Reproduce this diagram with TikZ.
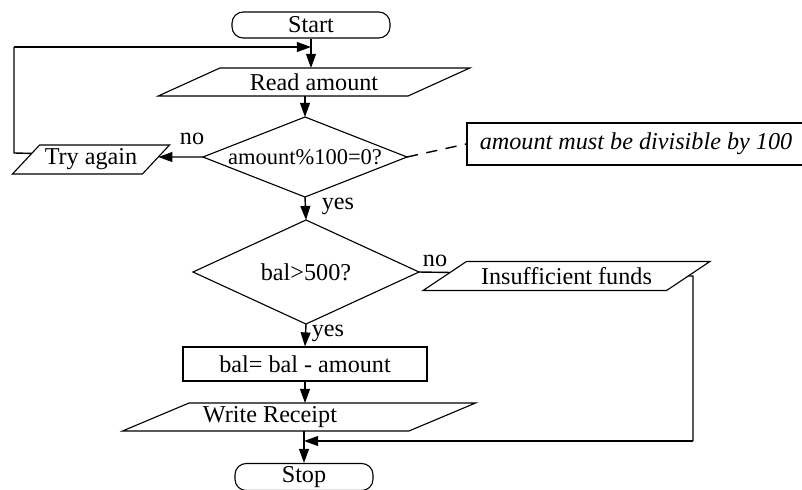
\documentclass[tikz,border=0pt]{standalone}
\usepackage{fontspec}
\setmainfont{Liberation Serif}
\usepackage{tikz}
\usetikzlibrary{arrows.meta,shapes,positioning,calc}

\begin{document}
\begin{tikzpicture}[
    x=0.025cm, y=-0.025cm,
    every node/.style={font=\fontsize{17.2}{20}\selectfont},
    term/.style={draw, line width=0.8pt, rounded corners=8pt, minimum width=3.95cm,
                 minimum height=0.65cm, inner sep=0pt},
    io/.style={draw, line width=0.8pt, trapezium, trapezium stretches=true,
               inner sep=0pt, outer sep=0pt},
    proc/.style={draw, line width=0.8pt, inner sep=0pt},
    decide/.style={draw, line width=0.8pt, diamond, inner sep=0pt, outer sep=0pt},
    lbl/.style={inner sep=0pt},
    arrow/.style={-{Triangle[length=10pt, width=7pt]}, line width=1pt},
    link/.style={line width=1pt},
  ]
    \useasboundingbox[fill=white] (0,0) rectangle (802,489);

    \node[term] (start) at (311,25) {Start};
    \node[io, trapezium left angle=22, trapezium right angle=158,
          minimum width=7.8cm, minimum height=0.7cm] (read) at (314,82) {Read amount};
    \node[decide, aspect=2.55, minimum width=5.1cm, minimum height=2cm,
          font=\fontsize{16}{19}\selectfont] (chk) at (305,157) {amount\%100=0?};
    \node[io, trapezium left angle=41, trapezium right angle=139,
          minimum width=3.95cm, minimum height=0.725cm] (again) at (91,159.5) {Try again};
    \node[proc, line width=1.1pt, minimum width=8.45cm, minimum height=1.05cm] (note) at (636,144)
          {\itshape amount must be divisible by 100};
    \node[decide, aspect=2.17, minimum width=5.65cm, minimum height=2.6cm] (bal) at (306,272) {bal>500?};
    \node[io, trapezium left angle=25, trapezium right angle=155,
          minimum width=7.175cm, minimum height=0.725cm] (nofund) at (566.5,276) {Insufficient funds};
    \node[proc, minimum width=6.1cm, minimum height=0.85cm] (sub) at (305,364) {bal= bal - amount};
    \node[io, trapezium left angle=20, trapezium right angle=160,
          minimum width=8.85cm, minimum height=0.7cm] (write) at (299,417) {Write Receipt\hspace*{1.45cm}};
    \node[term, minimum width=3.45cm, minimum height=0.675cm] (stop) at (304,477) {Stop};

    % labels
    \node[lbl] (no1) at (192,139) {no};
    \node[lbl] (yes1) at (338,206) {yes};
    \node[lbl] (no2) at (435,261) {no};
    \node[lbl] (yes2) at (328,333) {yes};

    % junctions
    \coordinate (back) at (start.south |- 0,47);
    \coordinate (corner1) at (14,47);
    \coordinate (corner2) at (14,153);
    \coordinate (merge) at (write.south -| stop.north);
    \coordinate (join) at (stop.north |- 0,441);
    \coordinate (corner3) at (693,276);
    \coordinate (corner4) at (693,441);

    \draw[arrow] (start.south) -- (start.south |- read.north);
    \draw[arrow] (read.south -| chk.north) -- (chk.north);
    \draw[arrow] (chk.west) -- (intersection of chk.west--chk.east and again.bottom right corner--again.top right corner);
    \draw[link] (intersection of corner2--chk.west and again.bottom left corner--again.top left corner)
        -- (corner2) -- (corner1);
    \draw[arrow] (corner1) -- (back);
    \draw[link, dashed, dash pattern=on 8pt off 6pt] (chk.east) -- (note.west);
    \draw[arrow] (chk.south) -- (bal.north);
    \draw[link] (bal.east) -- (intersection of bal.east--nofund.east and nofund.bottom left corner--nofund.top left corner);
    \draw[arrow] (bal.south) -- (sub.north);
    \draw[arrow] (sub.south) -- (sub.south |- write.north);
    \draw[arrow] (merge) -- (stop.north);
    \draw[link] (nofund.east) -- (corner3) -- (corner4);
    \draw[arrow] (corner4) -- (join);
\end{tikzpicture}
\end{document}
